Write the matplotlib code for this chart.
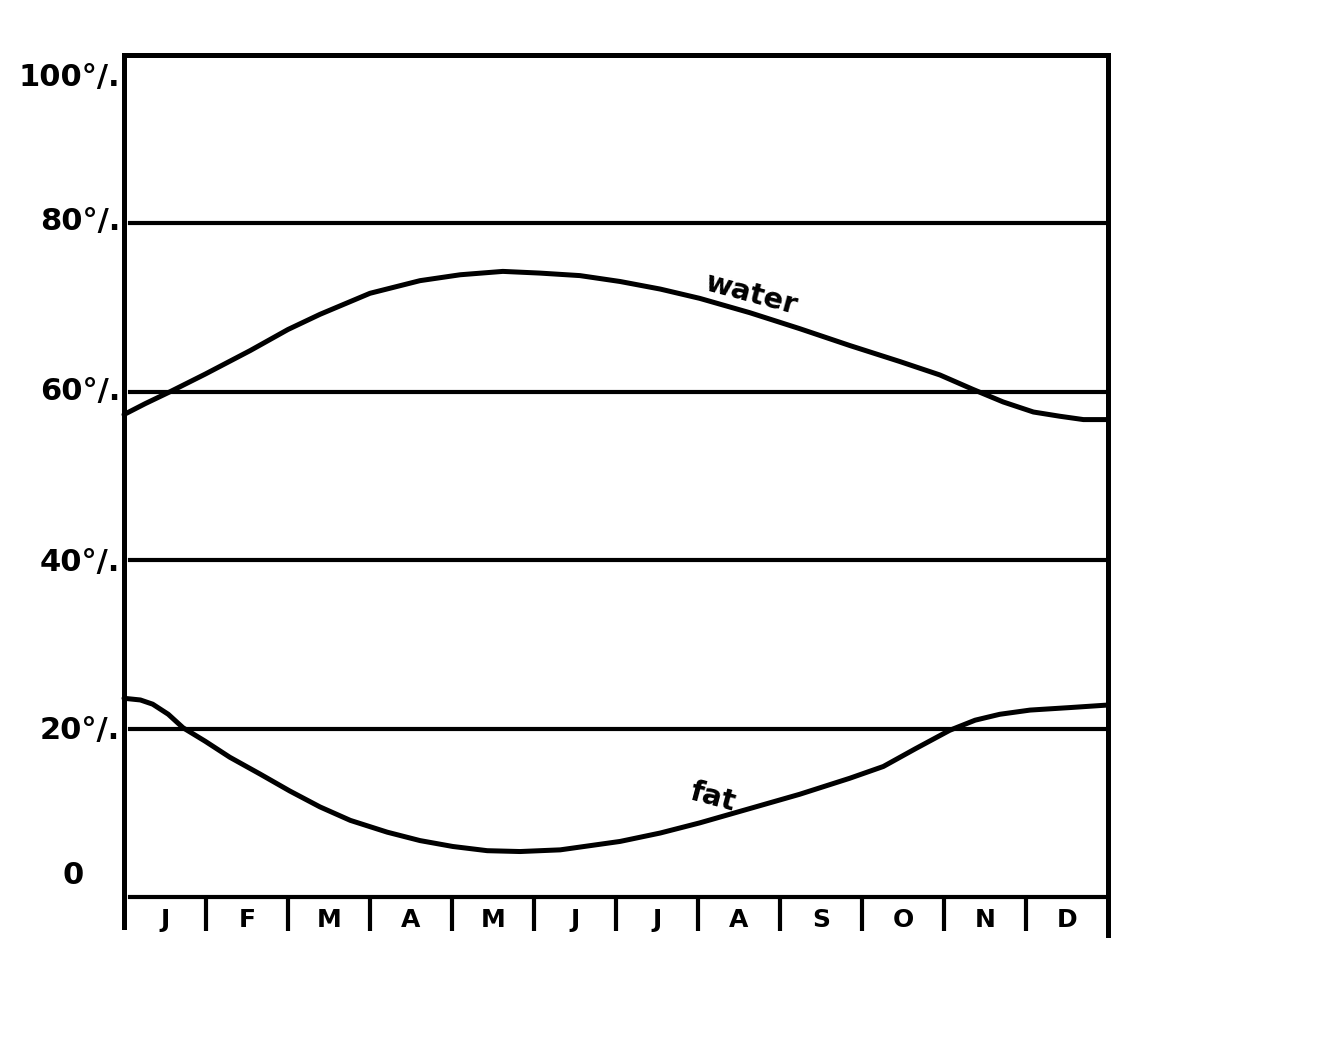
import matplotlib
matplotlib.use("Agg")
import matplotlib.pyplot as plt

# ---- data ----
months = ["J", "F", "M", "A", "M", "J", "J", "A", "S", "O", "N", "D"]
y_ticks = [0, 20, 40, 60, 80, 100]
y_labels = ["0", "20°/.", "40°/.", "60°/.", "80°/.", "100°/."]

water_x = [0.0, 0.26, 0.56, 0.99, 1.54, 2.00, 2.39, 3.00, 3.61, 4.10, 4.62, 5.07, 5.56,
           6.05, 6.54, 7.02, 7.63, 8.24, 8.85, 9.46, 9.95, 10.35, 10.72, 11.09, 11.41,
           11.70, 12.0]
water_y = [57.3, 58.6, 60.0, 62.1, 64.9, 67.4, 69.2, 71.7, 73.2, 73.9, 74.3, 74.1, 73.8,
           73.1, 72.2, 71.1, 69.4, 67.5, 65.5, 63.6, 62.0, 60.3, 58.8, 57.6, 57.1,
           56.7, 56.7]

fat_x = [0.0, 0.20, 0.35, 0.54, 0.72, 0.99, 1.29, 1.66, 2.02, 2.39, 2.76, 3.21, 3.61,
         4.01, 4.43, 4.83, 5.32, 6.05, 6.54, 7.02, 7.63, 8.24, 8.85, 9.26, 9.65, 10.07,
         10.38, 10.68, 11.05, 11.54, 12.0]
fat_y = [23.6, 23.4, 22.9, 21.7, 20.1, 18.5, 16.6, 14.6, 12.6, 10.7, 9.1, 7.7, 6.7,
         6.0, 5.5, 5.4, 5.6, 6.6, 7.6, 8.8, 10.5, 12.2, 14.1, 15.5, 17.6, 19.8,
         21.0, 21.7, 22.2, 22.5, 22.8]

# ---- figure ----
W, H = 1330, 1052
fig = plt.figure(figsize=(W / 100, H / 100), dpi=100)
fig.patch.set_facecolor("white")
left_px, right_px, top_px, bot_px = 124, 1108, 55, 897
ax = fig.add_axes([left_px / W, (H - bot_px) / H, (right_px - left_px) / W, (bot_px - top_px) / H])
ax.set_xlim(0, 12)
ax.set_ylim(0, 100)
ax.axis("off")

lw_axis = 3.6
lw_grid = 3.0
lw_curve = 3.6
fs = 22
font = dict(family="DejaVu Sans", fontweight="bold", color="black")

# frame
ax.axvline(0, ymin=-0.036, ymax=1.0, color="black", lw=lw_axis, clip_on=False, solid_capstyle="projecting")
ax.axvline(12, ymin=-0.045, ymax=1.0, color="black", lw=lw_axis, clip_on=False, solid_capstyle="projecting")
ax.axhline(100, xmin=0, xmax=1, color="black", lw=lw_axis, clip_on=False, solid_capstyle="projecting")

# horizontal lines
for v in y_ticks[:-1]:
    ax.axhline(v, xmin=0.006, xmax=1, color="black", lw=lw_grid, clip_on=False)

# month boundary ticks
xt = ax.get_xaxis_transform()
ax.vlines(range(1, 12), -0.04, 0, transform=xt, color="black", lw=lw_grid, clip_on=False)

# month labels
for i, m in enumerate(months):
    ax.text(i + 0.5, -0.027, m, transform=xt, ha="center", va="center", fontsize=18, **font)

# y labels
yt = ax.get_yaxis_transform()
label_pos = {0: 2.6, 20: 19.8, 40: 39.7, 60: 60.0, 80: 80.2, 100: 97.3}
for v, lab in zip(y_ticks, y_labels):
    if v == 0:
        ax.text(-0.052, label_pos[v], lab, transform=yt, ha="center", va="center", fontsize=fs, **font)
    else:
        ax.text(-0.004, label_pos[v], lab, transform=yt, ha="right", va="center", fontsize=fs, **font)

# curves
ax.plot(water_x, water_y, color="black", lw=lw_curve, solid_joinstyle="round",
        solid_capstyle="round", clip_on=False)
ax.plot(fat_x, fat_y, color="black", lw=lw_curve, solid_joinstyle="round",
        solid_capstyle="round", clip_on=False)

# curve labels
ax.text(7.65, 71.6, "water", rotation=-15, ha="center", va="center", fontsize=21, **font)
ax.text(7.18, 11.9, "fat", rotation=-15, ha="center", va="center", fontsize=21, **font)

fig.savefig("out.png", dpi=100, facecolor="white")
